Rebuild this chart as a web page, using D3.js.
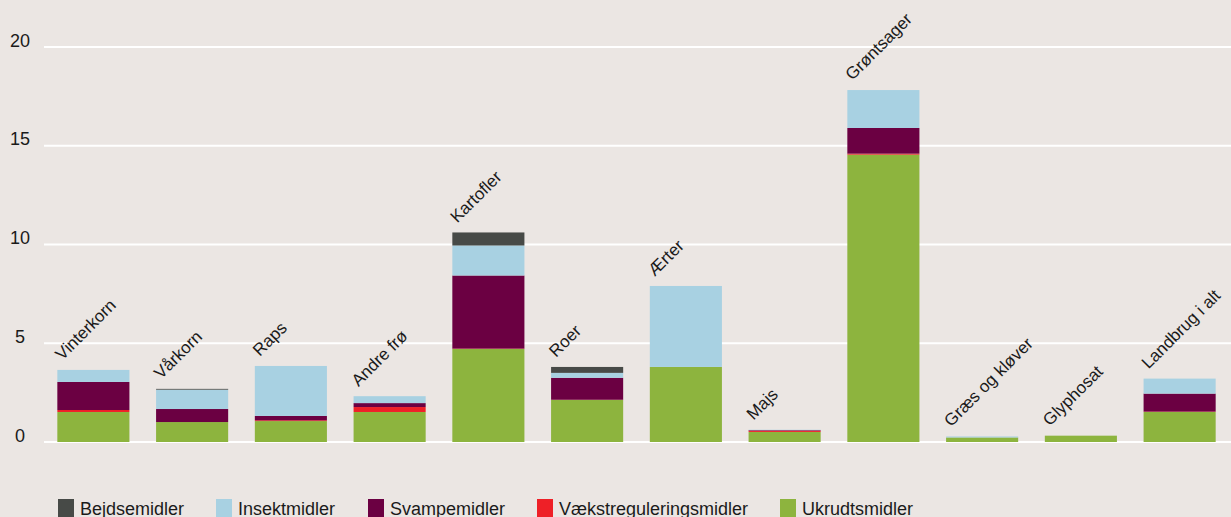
<!DOCTYPE html>
<html>
<head>
<meta charset="utf-8">
<script src="https://cdn.jsdelivr.net/npm/d3@7"></script>
<style>
  html, body { margin: 0; padding: 0; background: #ebe6e3; }
  svg { display: block; font-family: "Liberation Sans", Arial, Helvetica, sans-serif; }
</style>
</head>
<body>
<svg id="chart"></svg>
<script>
// kategorier
const categories = ["Vinterkorn", "Vårkorn", "Raps", "Andre frø", "Kartofler", "Roer",
  "Ærter", "Majs", "Grøntsager", "Græs og kløver", "Glyphosat", "Landbrug i alt"];

// serier (stables nedefra: ukrudt, vækst, svampe, insekt, bejdse)
const seriesNames = ["Bejdsemidler", "Insektmidler", "Svampemidler", "Vækstreguleringsmidler", "Ukrudtsmidler"];
const bejdsemidler   = [0,    0.04, 0,    0,    0.66, 0.30, 0,   0,    0,     0,    0,    0];
const insektmidler   = [0.61, 0.98, 2.53, 0.35, 1.52, 0.25, 4.1, 0.02, 1.92,  0.05, 0,    0.76];
const svampemidler   = [1.42, 0.66, 0.22, 0.20, 3.70, 1.11, 0,   0.03, 1.30,  0,    0,    0.91];
const vaekstregul    = [0.10, 0,    0.04, 0.25, 0.02, 0.01, 0,   0.06, 0.05,  0,    0,    0.02];
const ukrudtsmidler  = [1.52, 1.01, 1.06, 1.52, 4.71, 2.13, 3.8, 0.51, 14.55, 0.23, 0.32, 1.52];

const yTicks = [0, 5, 10, 15, 20];
const colors = {
    "Bejdsemidler": "#474a47",
    "Insektmidler": "#a8d1e2",
    "Svampemidler": "#6b0042",
    "Vækstreguleringsmidler": "#ee2027",
    "Ukrudtsmidler": "#8db43e"
};

const width = 1231, height = 517;
const svg = d3.select("#chart").attr("width", width).attr("height", height);

svg.append("rect").attr("width", width).attr("height", height).attr("fill", "#ebe6e3");

const rows = categories.map((c, i) => ({
    category: c,
    "Ukrudtsmidler": ukrudtsmidler[i],
    "Vækstreguleringsmidler": vaekstregul[i],
    "Svampemidler": svampemidler[i],
    "Insektmidler": insektmidler[i],
    "Bejdsemidler": bejdsemidler[i]
}));

const stackOrder = ["Ukrudtsmidler", "Vækstreguleringsmidler", "Svampemidler", "Insektmidler", "Bejdsemidler"];
const stacked = d3.stack().keys(stackOrder)(rows);

const x = d3.scaleBand()
    .domain(categories)
    .range([44, 1229])
    .paddingInner(0.27)
    .paddingOuter(0.135);

const y = d3.scaleLinear()
    .domain([0, 20])
    .range([442, 47]);

// gitterlinjer
svg.append("g")
    .selectAll("line")
    .data(yTicks)
    .join("line")
    .attr("x1", 44)
    .attr("x2", width)
    .attr("y1", d => y(d))
    .attr("y2", d => y(d))
    .attr("stroke", "#ffffff")
    .attr("stroke-width", 2.2);

// y-akse etiketter
svg.append("g")
    .selectAll("text")
    .data(yTicks)
    .join("text")
    .attr("x", 20)
    .attr("y", d => y(d) - 0.5)
    .attr("text-anchor", "middle")
    .style("font-size", "18px")
    .style("fill", "#1a1a1a")
    .text(d => d);

// søjler
svg.append("g")
    .selectAll("g")
    .data(stacked)
    .join("g")
    .attr("fill", s => colors[s.key])
    .selectAll("rect")
    .data(s => s)
    .join("rect")
    .attr("x", d => x(d.data.category))
    .attr("y", d => y(d[1]))
    .attr("width", x.bandwidth())
    .attr("height", d => Math.max(0, y(d[0]) - y(d[1])));

// kategori-etiketter (skrå, over søjlen)
const totals = rows.map(r => stackOrder.reduce((s, k) => s + r[k], 0));
svg.append("g")
    .selectAll("text")
    .data(categories)
    .join("text")
    .attr("transform", (d, i) => `translate(${x(d) + 5}, ${y(totals[i]) - 9}) rotate(-45)`)
    .style("font-size", "17px")
    .style("fill", "#1a1a1a")
    .text(d => d);

// forklaring
const legendX = [58, 216, 368, 537, 780];
const legend = svg.append("g")
    .selectAll("g")
    .data(seriesNames)
    .join("g")
    .attr("transform", (d, i) => `translate(${legendX[i]}, 499)`);

legend.append("rect")
    .attr("width", 16)
    .attr("height", 18)
    .attr("fill", d => colors[d]);

legend.append("text")
    .attr("x", 22)
    .attr("y", 16)
    .style("font-size", "18px")
    .style("fill", "#1a1a1a")
    .text(d => d);
</script>
</body>
</html>
